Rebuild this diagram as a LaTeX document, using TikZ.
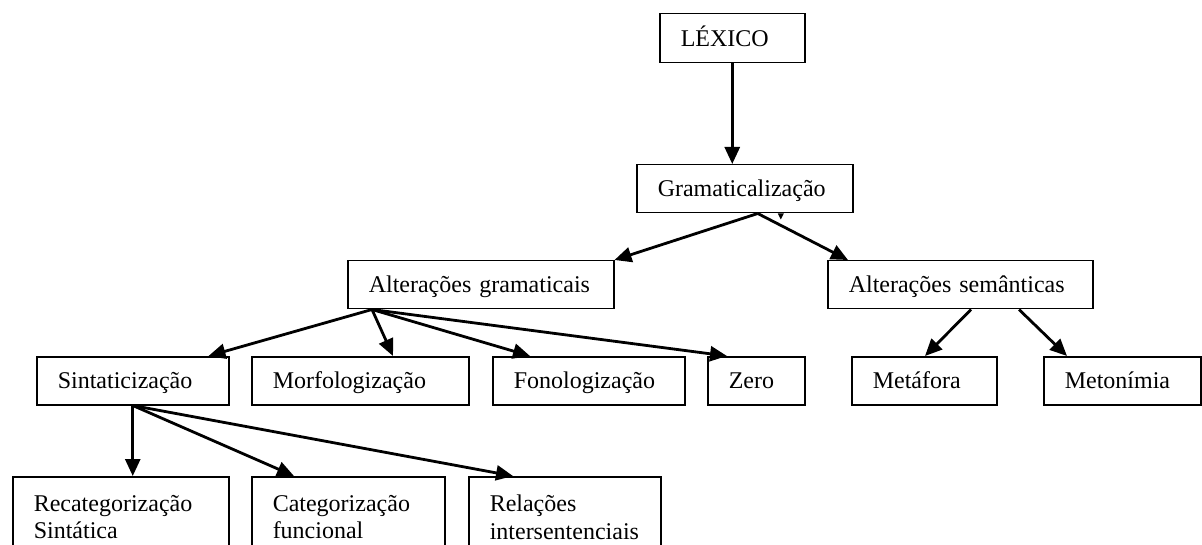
\documentclass[tikz,border=0pt]{standalone}
\usepackage{fontspec}
\setmainfont{Liberation Serif}
\usetikzlibrary{arrows.meta}
\begin{document}
\begin{tikzpicture}[x=1pt,y=-1pt,
  box/.style={draw, line width=1.5pt, rectangle, anchor=north west,
    inner xsep=21pt, inner ysep=0pt, align=left,
    font=\fontsize{24}{27.5}\selectfont},
  one/.style={box, text height=20pt, text depth=4pt, minimum height=48pt},
  arr/.style={line width=2.8pt, -{Triangle[length=17pt,width=15pt]}}]
\useasboundingbox (0,0) rectangle (1202,545);
\clip (0,0) rectangle (1202,545);
\node[one, text width=103pt, minimum height=49pt] (lex) at (659,13) {LÉXICO};
\node[one, text width=174pt] (gram) at (636,164) {Gramaticalização};
\node[one, text width=224pt] (altg) at (347,260) {Alterações gramaticais};
\node[one, text width=223pt] (alts) at (827,260) {Alterações semânticas};
\node[one, text width=150pt] (sint) at (36,356) {Sintaticização};
\node[one, text width=175pt] (morf) at (251,356) {Morfologização};
\node[one, text width=150pt] (fono) at (492,356) {Fonologização};
\node[one, text width=55pt] (zero) at (707,356) {Zero};
\node[one, text width=103pt] (meta) at (851,356) {Metáfora};
\node[one, text width=115pt] (meto) at (1043,356) {Metonímia};
\node[box, text width=174pt, minimum height=81pt] (rec) at (12,476) {Recategorização\\Sintática};
\node[box, text width=151pt, minimum height=81pt] (cat) at (251,476) {Categorização\\funcional};
\node[box, text width=150pt, minimum height=81pt] (rel) at (468,476) {Relações\\intersentenciais};
\draw[arr] (lex.south) -- (lex.south |- gram.north);
\draw[arr] ([xshift=13pt]gram.south) -- (altg.north east);
\draw[arr] ([xshift=13pt]gram.south) -- ([xshift=21pt]alts.north west);
\draw[arr] ([xshift=25pt]altg.south west) -- ([xshift=-21pt]sint.north east);
\draw[arr] ([xshift=25pt]altg.south west) -- ([xshift=142pt]morf.north west);
\draw[arr] ([xshift=25pt]altg.south west) -- ([xshift=38pt]fono.north west);
\draw[arr] ([xshift=25pt]altg.south west) -- ([xshift=20pt]zero.north west);
\draw[arr] ([xshift=144pt]alts.south west) -- ([xshift=74pt]meta.north west);
\draw[arr] ([xshift=192pt]alts.south west) -- ([xshift=24pt]meto.north west);
\draw[arr] (sint.south) -- (sint.south |- rec.north);
\draw[arr] (sint.south) -- ([xshift=43pt]cat.north west);
\draw[arr] (sint.south) -- ([xshift=45pt]rel.north west);
\fill ([xshift=33pt]gram.south) -- ([xshift=39pt]gram.south) -- ([xshift=36pt,yshift=-6pt]gram.south) -- cycle;
\end{tikzpicture}
\end{document}
